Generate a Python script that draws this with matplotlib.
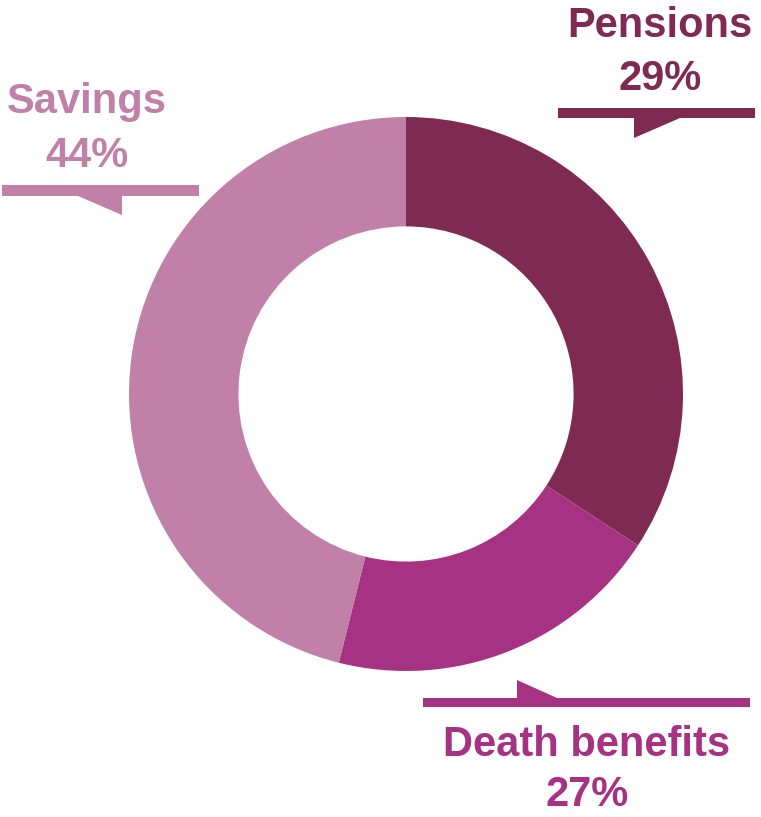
import matplotlib
matplotlib.use("Agg")
import matplotlib.pyplot as plt
from matplotlib.patches import Polygon, Rectangle

W, H = 761, 817

# wedge sizes as drawn (the printed labels differ from the drawn angles)
names = ["Pensions", "Death benefits", "Savings"]
sizes = [34.2, 19.7, 46.1]
pct_labels = ["29%", "27%", "44%"]
colors = ["#7E2A53", "#A63284", "#C080A8"]

plt.rcParams['font.family'] = ['Liberation Sans', 'DejaVu Sans']

fig = plt.figure(figsize=(W / 100, H / 100), dpi=100)
ax = fig.add_axes([0, 0, 1, 1])

def fy(y):
    return H - y  # pixel rows measured from top

cx, cy, r = 406, 394, 277
ax.pie(sizes, colors=colors, startangle=90, counterclock=False,
       center=(cx, fy(cy)), radius=r, frame=True,
       wedgeprops=dict(width=r * 0.395, linewidth=0))
ax.set_xlim(0, W)
ax.set_ylim(0, H)
ax.axis("off")

# callouts: bar (x0, x1, y0, y1), triangle points, text x, baselines
callouts = [
    dict(bar=(558, 755, 108, 118), tri=[(634, 118), (634, 138), (680, 118)],
         tx=660, b1=37, b2=90),
    dict(bar=(423, 750, 698, 707), tri=[(517, 698), (517, 680), (557, 698)],
         tx=587, b1=756, b2=806),
    dict(bar=(2, 199, 185, 196), tri=[(78, 196), (122, 196), (122, 215)],
         tx=87, b1=113, b2=167),
]

for name, pct, col, c in zip(names, pct_labels, colors, callouts):
    x0, x1, y0, y1 = c["bar"]
    ax.add_patch(Rectangle((x0, fy(y1)), x1 - x0, y1 - y0, color=col, lw=0))
    ax.add_patch(Polygon([(x, fy(y)) for x, y in c["tri"]], closed=True,
                         color=col, lw=0))
    ax.text(c["tx"], fy(c["b1"]), name, color=col, fontsize=30,
            fontweight="bold", ha="center", va="baseline")
    ax.text(c["tx"], fy(c["b2"]), pct, color=col, fontsize=30,
            fontweight="bold", ha="center", va="baseline")

fig.savefig("out.png", dpi=100)
